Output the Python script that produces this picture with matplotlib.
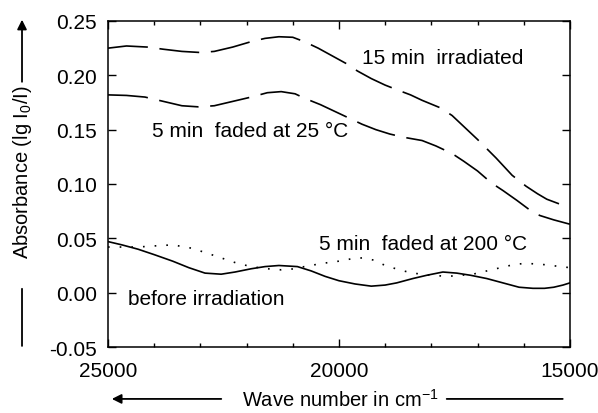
import matplotlib
matplotlib.use("Agg")
import matplotlib.pyplot as plt
from matplotlib.ticker import MultipleLocator

plt.rcParams['font.family'] = ['Liberation Sans', 'DejaVu Sans']
plt.rcParams['mathtext.fontset'] = 'custom'
plt.rcParams['mathtext.rm'] = 'Liberation Sans'

# 15 min irradiated
wn_irr = [25000, 24600, 24150, 23800, 23400, 23000, 22700, 22300, 21900, 21600,
          21300, 21000, 20750, 20450, 20150, 19850, 19600, 19300, 19000, 18700,
          18450, 18200, 17800, 17550, 17300, 17000, 16600, 16250, 15950, 15700,
          15500, 15250, 15000]
abs_irr = [0.225, 0.227, 0.226, 0.224, 0.222, 0.221, 0.222, 0.226, 0.231, 0.234,
           0.2355, 0.235, 0.231, 0.225, 0.218, 0.211, 0.204, 0.197, 0.191, 0.186,
           0.182, 0.177, 0.170, 0.163, 0.153, 0.141, 0.124, 0.108, 0.098, 0.091,
           0.086, 0.082, 0.079]

# 5 min faded at 25 C
wn_25 = [25000, 24600, 24200, 23800, 23400, 23050, 22700, 22300, 21900, 21550,
         21250, 20950, 20750, 20400, 20100, 19800, 19500, 19200, 18900, 18600,
         18200, 17900, 17550, 17300, 17000, 16700, 16450, 16150, 15850, 15650,
         15350, 15000]
abs_25 = [0.182, 0.1815, 0.180, 0.176, 0.172, 0.171, 0.172, 0.176, 0.180, 0.184,
          0.185, 0.183, 0.179, 0.173, 0.167, 0.161, 0.155, 0.150, 0.146, 0.143,
          0.140, 0.135, 0.128, 0.121, 0.112, 0.101, 0.094, 0.085, 0.0755, 0.071,
          0.067, 0.063]

# before irradiation
wn_before = [25000, 24700, 24350, 24000, 23600, 23250, 22900, 22550, 22250, 21900,
             21600, 21300, 20900, 20600, 20300, 20000, 19650, 19300, 19000, 18750,
             18400, 18100, 17750, 17450, 17150, 16800, 16450, 16100, 15800, 15550,
             15350, 15150, 15000]
abs_before = [0.047, 0.044, 0.040, 0.035, 0.029, 0.023, 0.018, 0.017, 0.019, 0.022,
              0.024, 0.025, 0.024, 0.020, 0.015, 0.011, 0.008, 0.006, 0.007, 0.009,
              0.013, 0.016, 0.019, 0.018, 0.016, 0.013, 0.009, 0.005, 0.004, 0.004,
              0.005, 0.007, 0.009]

# 5 min faded at 200 C
wn_200 = [25000, 24650, 24350, 24000, 23600, 23200, 22900, 22550, 22200, 21900,
          21550, 21250, 20950, 20750, 20350, 20000, 19750, 19500, 19250, 19050,
          18700, 18400, 18000, 17650, 17350, 17100, 16800, 16500, 16200, 15950,
          15600, 15200, 15000]
abs_200 = [0.042, 0.042, 0.042, 0.043, 0.044, 0.041, 0.037, 0.032, 0.027, 0.024,
           0.022, 0.021, 0.022, 0.024, 0.027, 0.029, 0.031, 0.032, 0.030, 0.026,
           0.021, 0.018, 0.016, 0.015, 0.016, 0.017, 0.020, 0.023, 0.026, 0.027,
           0.026, 0.024, 0.023]

fig = plt.figure(figsize=(5.98, 4.14), dpi=100)
ax = fig.add_axes([0.1806, 0.1594, 0.7724, 0.7875])

lw = 1.2
ax.plot(wn_irr, abs_irr, color='black', lw=lw, dashes=(24, 7))
ax.plot(wn_25, abs_25, color='black', lw=lw, dashes=(24, 7))
ax.plot(wn_before, abs_before, color='black', lw=lw)
ax.plot(wn_200, abs_200, color='black', lw=lw, dashes=(1, 6))

ax.set_xlim(25000, 15000)
ax.set_ylim(-0.05, 0.25)
ax.xaxis.set_major_locator(MultipleLocator(5000))
ax.xaxis.set_minor_locator(MultipleLocator(1000))
ax.yaxis.set_major_locator(MultipleLocator(0.05))
ax.yaxis.set_major_formatter(matplotlib.ticker.FormatStrFormatter('%.2f'))
ax.tick_params(which='both', direction='in', top=True, right=True, labelsize=15, width=1)
ax.tick_params(which='major', length=6)
ax.tick_params(axis='y', pad=8)
ax.tick_params(axis='x', pad=10)
ax.tick_params(which='minor', length=3)
for s in ax.spines.values():
    s.set_linewidth(1.1)

fs = 15
ax.text(19500, 0.216, '15 min  irradiated', fontsize=fs, va='center')
ax.text(24050, 0.149, '5 min  faded at 25 °C', fontsize=fs, va='center')
ax.text(20430, 0.045, '5 min  faded at 200 °C', fontsize=fs, va='center')
ax.text(24570, -0.005, 'before irradiation', fontsize=fs, va='center')

# axis labels with arrows
fig.text(0.0368, 0.584, r'Absorbance (lg I$\mathregular{_0}$/I)', rotation=90,
         ha='center', va='center', fontsize=14.5)
fig.text(0.569, 0.034, r'Wave number in cm$\mathregular{^{-1}}$',
         ha='center', va='center', fontsize=14.5)

arrow = dict(arrowstyle='-|>', color='black', lw=1.3, mutation_scale=14, shrinkA=0, shrinkB=0)
line = dict(arrowstyle='-', color='black', lw=1.3, shrinkA=0, shrinkB=0)
fig.add_artist(matplotlib.patches.FancyArrowPatch((0.0368, 0.80), (0.0368, 0.95),
               transform=fig.transFigure, **arrow))
fig.add_artist(matplotlib.patches.FancyArrowPatch((0.0368, 0.30), (0.0368, 0.162),
               transform=fig.transFigure, **line))
fig.add_artist(matplotlib.patches.FancyArrowPatch((0.37, 0.034), (0.187, 0.034),
               transform=fig.transFigure, **arrow))
fig.add_artist(matplotlib.patches.FancyArrowPatch((0.747, 0.034), (0.941, 0.034),
               transform=fig.transFigure, **line))

fig.savefig('out.png', dpi=100)
